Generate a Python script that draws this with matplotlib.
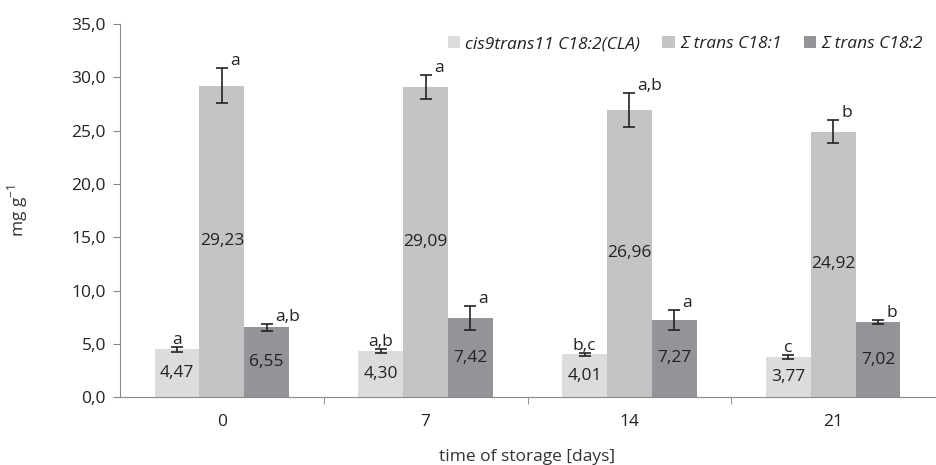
import matplotlib
matplotlib.use("Agg")
import matplotlib.pyplot as plt
import numpy as np

plt.rcParams['font.family'] = ['Open Sans', 'DejaVu Sans']

categories = ["0", "7", "14", "21"]
series_names = ["cis9trans11 C18:2(CLA)", "Σ trans C18:1", "Σ trans C18:2"]
cla = [4.47, 4.30, 4.01, 3.77]
t181 = [29.23, 29.09, 26.96, 24.92]
t182 = [6.55, 7.42, 7.27, 7.02]
cla_err = [0.22, 0.18, 0.15, 0.15]
t181_err = [1.65, 1.15, 1.6, 1.1]
t182_err = [0.3, 1.1, 0.95, 0.2]
cla_let = ["a", "a,b", "b,c", "c"]
t181_let = ["a", "a", "a,b", "b"]
t182_let = ["a,b", "a", "a", "b"]
yticks = [0, 5, 10, 15, 20, 25, 30, 35]

colors = ["#dcdcdd", "#c4c4c6", "#939497"]
values = [cla, t181, t182]
errs = [cla_err, t181_err, t182_err]
letters = [cla_let, t181_let, t182_let]

fs = 12.5

fig = plt.figure(figsize=(9.37, 4.65), dpi=100)
ax = fig.add_axes([0.128, 0.146, 0.87, 0.802])

x = np.arange(len(categories))
w = 0.22
offsets = [-w, 0, w]
for i in range(3):
    xs = x + offsets[i]
    ax.bar(xs, values[i], width=w, color=colors[i], label=series_names[i], zorder=2)
    ax.errorbar(xs, values[i], yerr=errs[i], fmt='none', ecolor='#222222',
                elinewidth=1.2, capsize=4, capthick=1.2, zorder=3)
    for j in range(len(categories)):
        v = values[i][j]
        ax.text(xs[j], v / 2, f"{v:.2f}".replace('.', ','), ha='center', va='center',
                fontsize=fs, color='#222222', zorder=4)
        top = v + errs[i][j]
        if i == 0:
            ax.text(xs[j], top - 0.1, letters[i][j], ha='center', va='bottom',
                    fontsize=fs, color='#222222', zorder=4)
        else:
            ax.text(xs[j] + 0.04, top - 0.1, letters[i][j], ha='left', va='bottom',
                    fontsize=fs, color='#222222', zorder=4)

ax.set_xlim(-0.5, len(categories) - 0.5)
ax.set_ylim(0, 35)
ax.set_yticks(yticks)
ax.set_yticklabels([f"{t:.1f}".replace('.', ',') for t in yticks], fontsize=fs, color='#222222')
ax.set_xticks(x)
ax.set_xticklabels(categories, fontsize=fs, color='#222222')
ax.tick_params(axis='x', length=0, pad=12)
ax.set_xticks(np.arange(0.5, len(categories) - 0.5, 1), minor=True)
ax.tick_params(axis='x', which='minor', length=5, color='#888888', direction='out')
ax.tick_params(axis='y', length=5, color='#888888', direction='out', pad=5)

for s in ['top', 'right']:
    ax.spines[s].set_visible(False)
ax.spines['left'].set_color('#888888')
ax.spines['bottom'].set_color('#888888')

ax.set_ylabel("mg g$^{\\mathregular{-1}}$", fontsize=fs, color='#333333', labelpad=30)
ax.set_xlabel("time of storage [days]", fontsize=fs, color='#333333', labelpad=14)

leg = ax.legend(loc='upper right', bbox_to_anchor=(1.0, 1.0), ncol=3, frameon=False,
                prop={'style': 'italic', 'size': fs}, handlelength=0.7, handleheight=0.7,
                handletextpad=0.3, columnspacing=1.3, borderaxespad=0.3)
for t in leg.get_texts():
    t.set_color('#222222')

fig.savefig("out.png", dpi=100)
